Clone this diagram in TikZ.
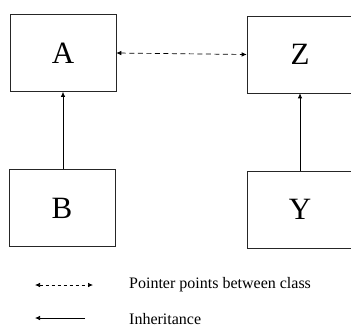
\documentclass[tikz,border=0pt]{standalone}
\usepackage{fontspec}
\setmainfont{Liberation Serif}
\usetikzlibrary{arrows.meta}
\newcommand{\boxfont}{\fontsize{31pt}{33pt}\selectfont}
\newcommand{\legendfont}{\fontsize{16pt}{18pt}\selectfont}
\begin{document}
\begin{tikzpicture}[x=1pt,y=-1pt,
  classbox/.style={draw=black!85, line width=0.6pt, rectangle, inner sep=0pt,
    minimum width=106pt, minimum height=77pt},
  tip/.style={-{Latex[length=5pt,width=4.5pt]}},
  bitip/.style={{Latex[length=5pt,width=4.5pt]}-{Latex[length=5pt,width=4.5pt]}},
  pointer/.style={bitip, line width=0.7pt, dash pattern=on 5pt off 3.5pt},
  inherit/.style={tip, line width=0.7pt},
  legendtext/.style={anchor=west, inner sep=0pt}]
\useasboundingbox (0,0) rectangle (351,330);
\fill[white] (0,0) rectangle (351,330);

% class boxes
\node[classbox] (A) at (63,53) {\boxfont A};
\node[classbox] (Z) at (300,54.5) {\boxfont Z};
\node[classbox] (B) at (62,208) {\boxfont B};
\node[classbox] (Y) at (300,209.5) {\boxfont Y};

% pointer between A and Z
\draw[pointer] (A.east) -- (Z.west);

% inheritance links
\draw[inherit] (B.north -| A.south) -- (A.south);
\draw[inherit] (Y.north) -- (Z.south);

% legend
\coordinate (p1) at (35,285);
\coordinate (p2) at (93,285);
\coordinate (i1) at (35,318);
\coordinate (i2) at (85,318);
\draw[bitip, line width=0.7pt, dash pattern=on 3pt off 3pt] (p1) -- (p2);
\draw[inherit] (i2) -- (i1);
\node[legendtext] (ptext) at (129,285) {\legendfont Pointer points between class};
\node[legendtext] (itext) at (129,319) {\legendfont Inheritance};
\end{tikzpicture}
\end{document}
